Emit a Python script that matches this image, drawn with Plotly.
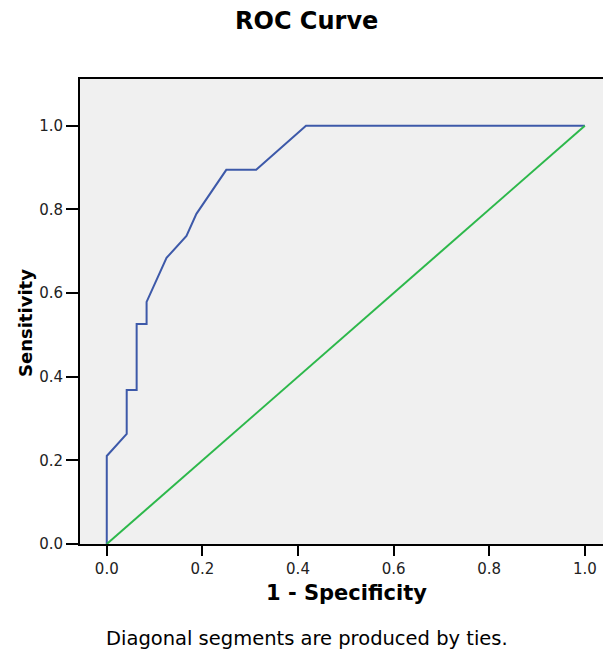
import plotly.graph_objects as go

# ROC curve points (1 - specificity, sensitivity)
fpr = [0.0, 0.0, 0.0417, 0.0417, 0.0625, 0.0625, 0.0833, 0.0833, 0.125, 0.1667, 0.1875, 0.25, 0.3125, 0.4167, 1.0]
tpr = [0.0, 0.2105, 0.2632, 0.3684, 0.3684, 0.5263, 0.5263, 0.5789, 0.6842, 0.7368, 0.7895, 0.8947, 0.8947, 1.0, 1.0]
ref_x = [0.0, 1.0]
ref_y = [0.0, 1.0]
tick_vals = [0.0, 0.2, 0.4, 0.6, 0.8, 1.0]
tick_text = ["0.0", "0.2", "0.4", "0.6", "0.8", "1.0"]

FONT = "DejaVu Sans, Verdana, sans-serif"

fig = go.Figure()
fig.add_trace(go.Scatter(x=fpr, y=tpr, mode="lines",
                         line=dict(color="#3D59A9", width=2), showlegend=False))
fig.add_trace(go.Scatter(x=ref_x, y=ref_y, mode="lines",
                         line=dict(color="#2DB84B", width=2), showlegend=False))

L, T, B = 80, 79, 107
W, H = 603, 651
pw, ph = W - L, H - T - B

def px(xp):
    return (xp - L) / pw

def py(yp):
    return (H - B - yp) / ph

fig.update_layout(
    width=W, height=H,
    margin=dict(l=L, r=0, t=T, b=B),
    paper_bgcolor="white",
    plot_bgcolor="#F0F0F0",
    font=dict(family=FONT, color="black"),
    xaxis=dict(range=[-0.056, 1.038], tickvals=tick_vals, ticktext=tick_text,
               showgrid=False, zeroline=False, showline=True, linecolor="black",
               linewidth=2, mirror=True, ticks="outside", ticklen=10, tickwidth=2,
               tickcolor="black", tickfont=dict(size=15, family=FONT, color="#222")),
    yaxis=dict(range=[0, 1.112], tickvals=tick_vals, ticktext=tick_text,
               showgrid=False, zeroline=False, showline=True, linecolor="black",
               linewidth=2, ticks="outside", ticklen=12, tickwidth=2,
               tickcolor="black", tickfont=dict(size=15, family=FONT, color="#222")),
    annotations=[
        dict(text="<b>ROC Curve</b>", x=px(306), y=py(21), xref="paper", yref="paper",
             showarrow=False, font=dict(size=24, family=FONT), xanchor="center", yanchor="middle"),
        dict(text="<b>1 - Specificity</b>", x=px(346), y=py(593), xref="paper", yref="paper",
             showarrow=False, font=dict(size=21, family=FONT), xanchor="center", yanchor="middle"),
        dict(text="<b>Sensitivity</b>", x=px(25), y=py(323), xref="paper", yref="paper",
             showarrow=False, textangle=-90, font=dict(size=18, family=FONT),
             xanchor="center", yanchor="middle"),
        dict(text="Diagonal segments are produced by ties.", x=px(307), y=py(638),
             xref="paper", yref="paper", showarrow=False,
             font=dict(size=19.5, family=FONT), xanchor="center", yanchor="middle"),
    ],
)

fig.write_html("out.html", config={"displayModeBar": False},
               post_script="document.body.style.margin='0';")
